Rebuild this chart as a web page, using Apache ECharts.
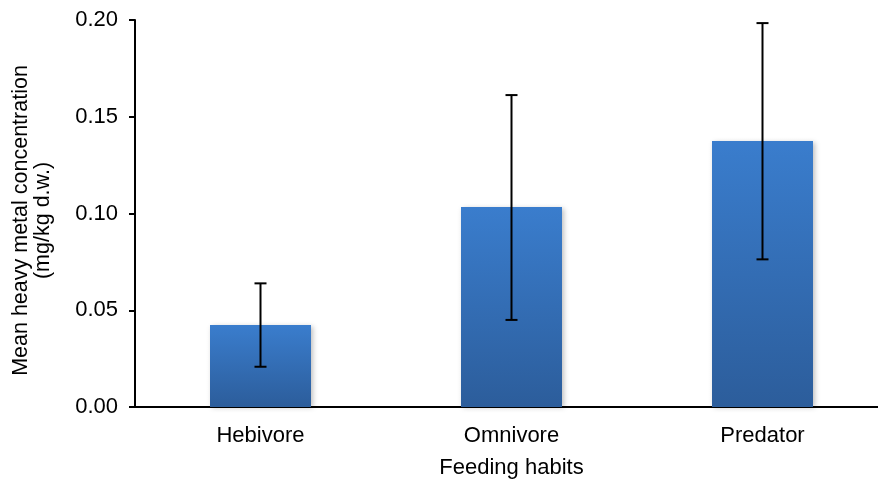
<!DOCTYPE html>
<html>
<head>
<meta charset="utf-8">
<script src="https://cdn.jsdelivr.net/npm/echarts@6/dist/echarts.min.js"></script>
<style>
html,body{margin:0;padding:0;background:#fff;}
#c{width:878px;height:483px;}
</style>
</head>
<body>
<div id="c"></div>
<script>
const categories = ['Hebivore', 'Omnivore', 'Predator'];
const means = [0.0424, 0.1034, 0.1375];
const errLow = [0.0208, 0.0450, 0.0763];
const errHigh = [0.0639, 0.1612, 0.1984];
const yTicks = [0, 0.05, 0.10, 0.15, 0.20];

const font = 'Liberation Sans, Arial, sans-serif';
const chart = echarts.init(document.getElementById('c'));
const errData = categories.map((c, i) => [i, errLow[i], errHigh[i]]);

chart.setOption({
  animation: false,
  backgroundColor: '#fff',
  grid: { left: 135, right: -10, top: 20, bottom: 76, containLabel: false, outerBoundsMode: 'none' },
  xAxis: {
    type: 'category',
    data: categories,
    name: 'Feeding habits',
    nameLocation: 'middle',
    nameGap: 50,
    nameTextStyle: { fontFamily: font, fontSize: 22, color: '#000' },
    axisLine: { lineStyle: { color: '#000', width: 2 } },
    axisTick: { show: false },
    axisLabel: { fontFamily: font, fontSize: 22, color: '#000', margin: 18 }
  },
  yAxis: {
    type: 'value',
    min: 0, max: 0.2, interval: 0.05,
    name: 'Mean heavy metal concentration\n(mg/kg d.w.)',
    nameLocation: 'middle',
    nameRotate: 90,
    nameGap: 81,
    nameTextStyle: { fontFamily: font, fontSize: 21.5, color: '#000', lineHeight: 22, align: 'center', padding: [0, 14, 0, 0] },
    axisLine: { show: true, lineStyle: { color: '#000', width: 2 } },
    axisTick: { show: true, length: 6, lineStyle: { color: '#000', width: 2 } },
    splitLine: { show: false },
    axisLabel: {
      fontFamily: font, fontSize: 22, color: '#000', margin: 17,
      formatter: v => v.toFixed(2)
    }
  },
  series: [
    {
      type: 'bar',
      data: means,
      barWidth: 101,
      itemStyle: {
        color: new echarts.graphic.LinearGradient(0, 0, 0, 1, [
          { offset: 0, color: '#3a7dcd' },
          { offset: 1, color: '#2c5d9b' }
        ]),
        shadowBlur: 5,
        shadowOffsetX: 2,
        shadowOffsetY: 1,
        shadowColor: 'rgba(0,0,0,0.25)'
      }
    },
    {
      type: 'custom',
      data: errData,
      z: 10,
      renderItem: function (params, api) {
        const x = api.value(0);
        const lo = api.coord([x, api.value(1)]);
        const hi = api.coord([x, api.value(2)]);
        const hw = 6;
        const st = { stroke: '#000', lineWidth: 2 };
        return {
          type: 'group',
          children: [
            { type: 'line', shape: { x1: hi[0], y1: hi[1], x2: lo[0], y2: lo[1] }, style: st },
            { type: 'line', shape: { x1: hi[0] - hw, y1: hi[1], x2: hi[0] + hw, y2: hi[1] }, style: st },
            { type: 'line', shape: { x1: lo[0] - hw, y1: lo[1], x2: lo[0] + hw, y2: lo[1] }, style: st }
          ]
        };
      }
    }
  ]
});
</script>
</body>
</html>
